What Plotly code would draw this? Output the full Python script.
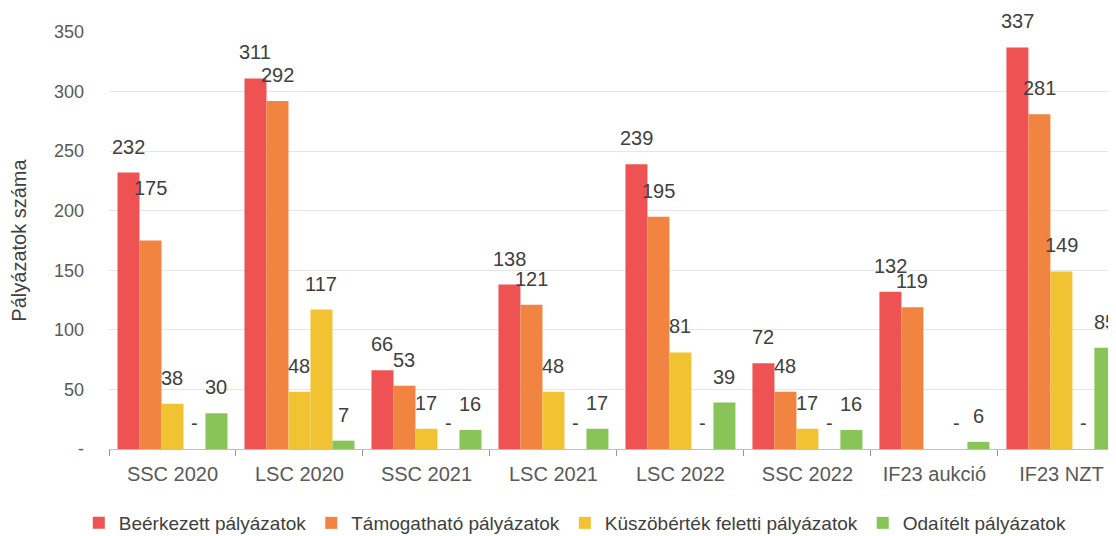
import plotly.graph_objects as go

categories = ["SSC 2020", "LSC 2020", "SSC 2021", "LSC 2021", "LSC 2022", "SSC 2022", "IF23 aukció", "IF23 NZT"]

beerkezett = [232, 311, 66, 138, 239, 72, 132, 337]
tamogathato = [175, 292, 53, 121, 195, 48, 119, 281]
kuszobertek = [38, 48, 17, 48, 81, 17, None, 149]
kuszobertek_2 = [0, 117, 0, 0, 0, 0, 0, 0]
odaitelt = [30, 7, 16, 17, 39, 16, 6, 85]

series_names = ["Beérkezett pályázatok", "Támogatható pályázatok", "Küszöbérték feletti pályázatok", "Küszöbérték feletti pályázatok (2)", "Odaítélt pályázatok"]
series_values = [beerkezett, tamogathato, kuszobertek, kuszobertek_2, odaitelt]
series_colors = ["#EE5253", "#F08440", "#F1C232", "#F1C232", "#89C458"]
series_in_legend = [True, True, True, False, True]

y_tick_values = [0, 50, 100, 150, 200, 250, 300, 350]
y_tick_labels = ["-", "50", "100", "150", "200", "250", "300", "350"]

FONT = "Liberation Sans, Arial, sans-serif"
BARGAP = 0.134
LABEL_SHIFT = 26
extra_label_shift = {(0, 1): 27}

fig = go.Figure()
for name, vals, col, leg in zip(series_names, series_values, series_colors, series_in_legend):
    fig.add_trace(go.Bar(
        name=name, x=categories, y=vals, marker=dict(color=col, line=dict(width=0)),
        showlegend=leg, hoverinfo="x+y+name",
    ))

n = len(series_values)
w = (1 - BARGAP) / n
annotations = []
for i, vals in enumerate(series_values):
    for j, v in enumerate(vals):
        if v is None:
            continue
        txt = "-" if v == 0 else str(v)
        xc = j - (1 - BARGAP) / 2 + w * (i + 0.5)
        annotations.append(dict(
            x=xc, y=v, xref="x", yref="y", text=txt, showarrow=False,
            yanchor="middle", xanchor="center",
            yshift=LABEL_SHIFT + extra_label_shift.get((j, i), 0),
            font=dict(family=FONT, size=20, color="#404040"),
        ))

fig.update_layout(
    width=1108, height=528,
    margin=dict(l=101, r=0, t=24, b=87, autoexpand=False),
    paper_bgcolor="white", plot_bgcolor="white",
    barmode="group", bargap=BARGAP, bargroupgap=0,
    annotations=annotations,
    font=dict(family=FONT, color="#595959"),
    legend=dict(
        orientation="h", xref="container", yref="container",
        x=0.512, xanchor="center", y=0.0246, yanchor="middle",
        font=dict(family=FONT, size=19, color="#404040"),
        itemwidth=30, tracegroupgap=0,
    ),
    xaxis=dict(
        type="category", categoryorder="array", categoryarray=categories,
        range=[-0.5, 7.43], tickson="boundaries", ticks="outside", ticklen=6,
        tickcolor="#8C9AA8", showline=True, linecolor="#BFBFBF", linewidth=1,
        showgrid=False, ticklabelstandoff=7,
        tickfont=dict(family=FONT, size=20, color="#595959"),
    ),
    yaxis=dict(
        range=[0, 350], tickvals=y_tick_values, ticktext=y_tick_labels,
        showgrid=True, gridcolor="#E6E6E6", gridwidth=1, zeroline=False,
        ticks="", ticklabelstandoff=24, showline=False,
        tickfont=dict(family=FONT, size=18, color="#595959"),
        title=dict(text="Pályázatok száma", standoff=29,
                   font=dict(family=FONT, size=20, color="#404040")),
    ),
)

fig.write_html("out.html")
